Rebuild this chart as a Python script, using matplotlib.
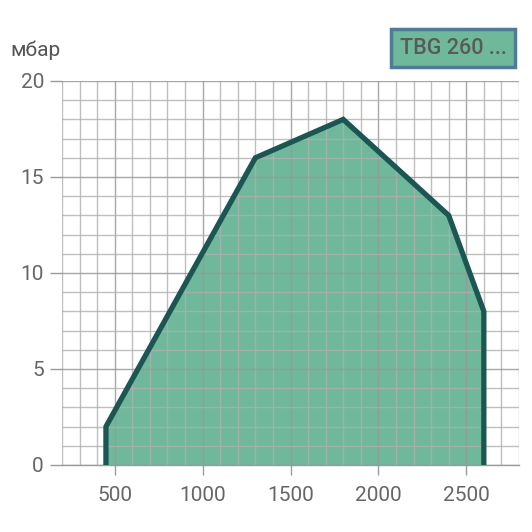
import matplotlib
matplotlib.use('Agg')
import matplotlib.pyplot as plt
from matplotlib.ticker import MultipleLocator

# ============================================
# DATA
# ============================================
flow = [450, 450, 1300, 1800, 2400, 2600, 2600]
pressure = [0, 2, 16, 18, 13, 8, 0]
x_ticks = [500, 1000, 1500, 2000, 2500]
y_ticks = [0, 5, 10, 15, 20]
legend_label = "TBG 260 ..."
y_unit = "мбар"

FILL = '#6fb89b'
EDGE = '#1c5652'
TEXT = '#666666'

plt.rcParams['font.family'] = ['Roboto', 'DejaVu Sans']

fig = plt.figure(figsize=(5.32, 5.32), dpi=100)
ax = fig.add_axes([62 / 532, 67 / 532, 457 / 532, 384 / 532])

ax.fill(flow, pressure, color=FILL, zorder=1, linewidth=0)
ax.plot(flow, pressure, color=EDGE, linewidth=3.8, solid_capstyle='round',
        solid_joinstyle='miter', zorder=3)

ax.set_xlim(200, 2800)
ax.set_ylim(0, 20)
ax.set_xticks(x_ticks)
ax.set_yticks(y_ticks)
ax.xaxis.set_minor_locator(MultipleLocator(100))
ax.yaxis.set_minor_locator(MultipleLocator(1))

# grid drawn over the fill, slightly see-through
ax.grid(which='minor', color='#b0b0b0', alpha=0.8, linewidth=1.0, zorder=2)
ax.grid(which='major', color='#999999', alpha=0.85, linewidth=1.0, zorder=2)
ax.set_axisbelow(False)

for s in ['top', 'right', 'left']:
    ax.spines[s].set_visible(False)
ax.spines['bottom'].set_color('#9a9a9a')
ax.spines['bottom'].set_linewidth(1.0)

ax.tick_params(axis='x', which='major', length=7, color='#9a9a9a', width=1,
               labelsize=15, labelcolor=TEXT, pad=8)
ax.tick_params(axis='y', which='major', length=9, color='#9a9a9a', width=1,
               labelsize=15, labelcolor=TEXT, pad=4)
ax.tick_params(which='minor', length=0)

fig.text(10 / 532, 1 - 50 / 532, y_unit, fontsize=15, color='#555555',
         ha='left', va='center')

fig.text(453 / 532, 1 - 48 / 532, legend_label, fontsize=15.5, fontweight='medium',
         color='#5a5a5a', ha='center', va='center',
         bbox=dict(boxstyle='square,pad=0.38', facecolor=FILL, edgecolor='#4e7c94',
                   linewidth=2.5))

fig.savefig('out.png', dpi=100)
